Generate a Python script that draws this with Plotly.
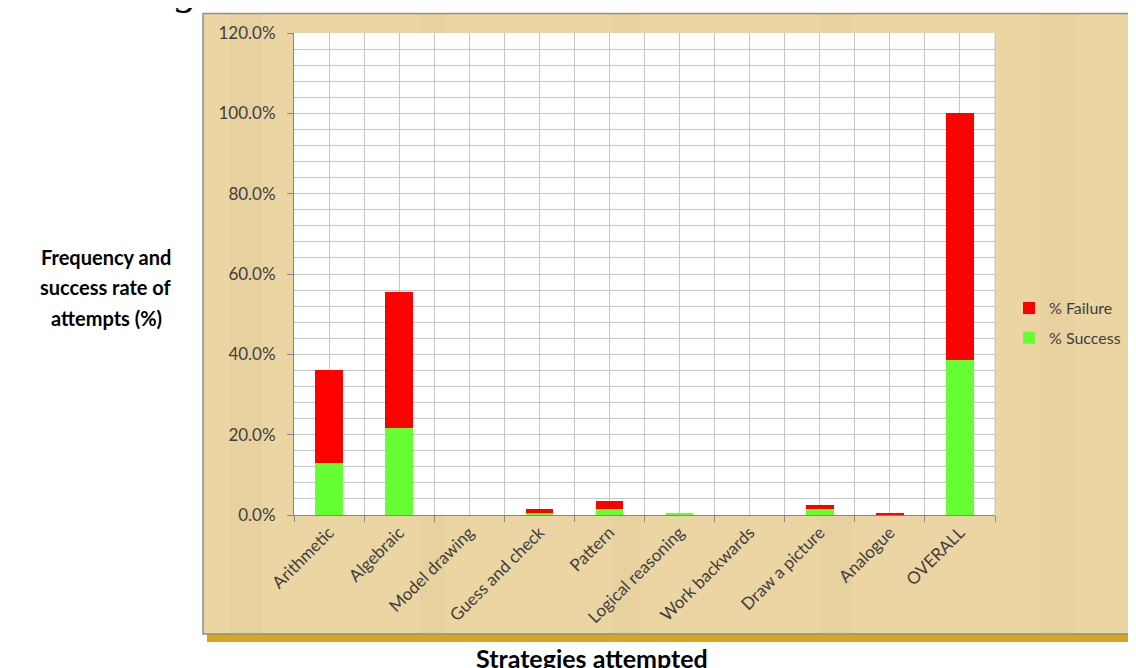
import plotly.graph_objects as go

categories = ["Arithmetic", "Algebraic", "Model drawing", "Guess and check", "Pattern",
              "Logical reasoning", "Work backwards", "Draw a picture", "Analogue", "OVERALL"]
success_pct = [12.9, 21.6, 0.0, 0.5, 1.4, 0.6, 0.0, 1.6, 0.0, 38.5]
failure_pct = [23.1, 34.0, 0.0, 1.0, 2.2, 0.0, 0.0, 1.0, 0.4, 61.5]
y_ticks = [0, 20, 40, 60, 80, 100, 120]

OFF = 8  # page body margin
W, H = 1136 - OFF, 668 - OFF
L, R, T, B = 294 - OFF, 995 - OFF, 32.6 - OFF, 515 - OFF  # plot area in figure pixels


def px_x(p):
    """screen pixel x -> paper"""
    return (p - OFF - L) / (R - L)


def px_y(p):
    """screen pixel y -> paper"""
    return (B - (p - OFF)) / (B - T)


xpos = list(range(len(categories)))
FONT = "Lato, Noto Sans, sans-serif"
GRID = "#c6c6c6"

fig = go.Figure()
fig.add_trace(go.Bar(x=xpos, y=[v / 100 for v in success_pct], name="% Success",
                     legendgroup="s", legendrank=2,
                     marker=dict(color="#66ff33", line=dict(width=0)), width=0.395))
fig.add_trace(go.Bar(x=xpos, y=[v / 100 for v in failure_pct], name="% Failure",
                     legendgroup="f", legendrank=1,
                     marker=dict(color="#ff0000", line=dict(width=0)), width=0.395))

shapes = [
    # gold shadow
    dict(type="rect", xref="paper", yref="paper", x0=px_x(207), x1=px_x(1150),
         y0=px_y(642), y1=px_y(20), fillcolor="#d9a520", line=dict(width=0), layer="below"),
    # parchment frame
    dict(type="rect", xref="paper", yref="paper", x0=px_x(203), x1=px_x(1150),
         y0=px_y(634), y1=px_y(13), fillcolor="#ead5a3", line=dict(color="#8f8f8f", width=1.5),
         layer="below"),
]
# subtle parchment streaks
streaks = [(230, 262), (420, 445), (612, 640), (820, 852), (1040, 1075)]
for a, b in streaks:
    shapes.append(dict(type="rect", xref="paper", yref="paper", x0=px_x(a), x1=px_x(b),
                       y0=px_y(633), y1=px_y(14), fillcolor="rgba(200,170,110,0.08)",
                       line=dict(width=0), layer="below"))
# white plot area
shapes.append(dict(type="rect", xref="paper", yref="paper", x0=0, x1=1, y0=0, y1=1,
                   fillcolor="white", line=dict(width=0), layer="below"))

annotations = [
    dict(text="Strategies attempted", xref="paper", yref="paper", x=px_x(592), y=px_y(641),
         showarrow=False, font=dict(family=FONT, size=25, color="black", weight="bold"),
         xanchor="center", yanchor="top"),
    dict(text="<i>g</i>", xref="paper", yref="paper", x=px_x(174), y=px_y(16),
         showarrow=False, font=dict(family="Liberation Serif", size=44, color="black"),
         xanchor="left", yanchor="bottom"),
]
for txt, yy in [("Frequency and", 257), ("success rate of", 287), ("attempts (%)", 318)]:
    annotations.append(dict(text=txt, xref="paper", yref="paper", x=px_x(106), y=px_y(yy),
                            showarrow=False, xanchor="center", yanchor="middle",
                            font=dict(family=FONT, size=20, color="black", weight="bold")))

fig.update_layout(
    width=W, height=H,
    margin=dict(l=L, r=W - R, t=T, b=H - B, pad=0, autoexpand=False),
    paper_bgcolor="white", plot_bgcolor="white",
    barmode="stack",
    font=dict(family=FONT, size=16, color="#404040"),
    shapes=shapes, annotations=annotations,
    legend=dict(x=px_x(1009), y=px_y(323), xanchor="left", yanchor="middle",
                traceorder="grouped", bgcolor="rgba(0,0,0,0)",
                font=dict(family=FONT, size=16, color="#404040"), itemwidth=30,
                tracegroupgap=6),
    showlegend=True,
)
fig.update_xaxes(
    range=[-0.5, len(categories) - 0.5], tickmode="array", tickvals=xpos, ticktext=categories,
    tickangle=-45, ticks="", showgrid=True, gridcolor=GRID, gridwidth=1,
    showline=True, linecolor="#868686", linewidth=1, mirror=False, automargin=False,
    tickfont=dict(family=FONT, size=17, color="#404040"),
    minor=dict(tickmode="linear", tick0=-0.5, dtick=1, showgrid=True, gridcolor=GRID,
               ticks="outside", ticklen=6, tickcolor="#868686"),
    zeroline=False,
)
fig.update_yaxes(
    range=[0, 1.2], tickmode="array", tickvals=[v / 100 for v in y_ticks], tickformat=".1%",
    ticks="outside", ticklen=6, tickcolor="#868686", ticklabelstandoff=8,
    showgrid=True, gridcolor=GRID, gridwidth=1, automargin=False,
    showline=True, linecolor="#868686", linewidth=1,
    minor=dict(dtick=0.04, tick0=0, showgrid=True, gridcolor=GRID, ticks=""),
    tickfont=dict(family=FONT, size=17, color="#404040"),
    zeroline=False,
)
fig.add_shape(type="line", xref="paper", yref="paper", x0=1, x1=1, y0=0, y1=1,
              line=dict(color=GRID, width=1))
fig.write_html("out.html")
